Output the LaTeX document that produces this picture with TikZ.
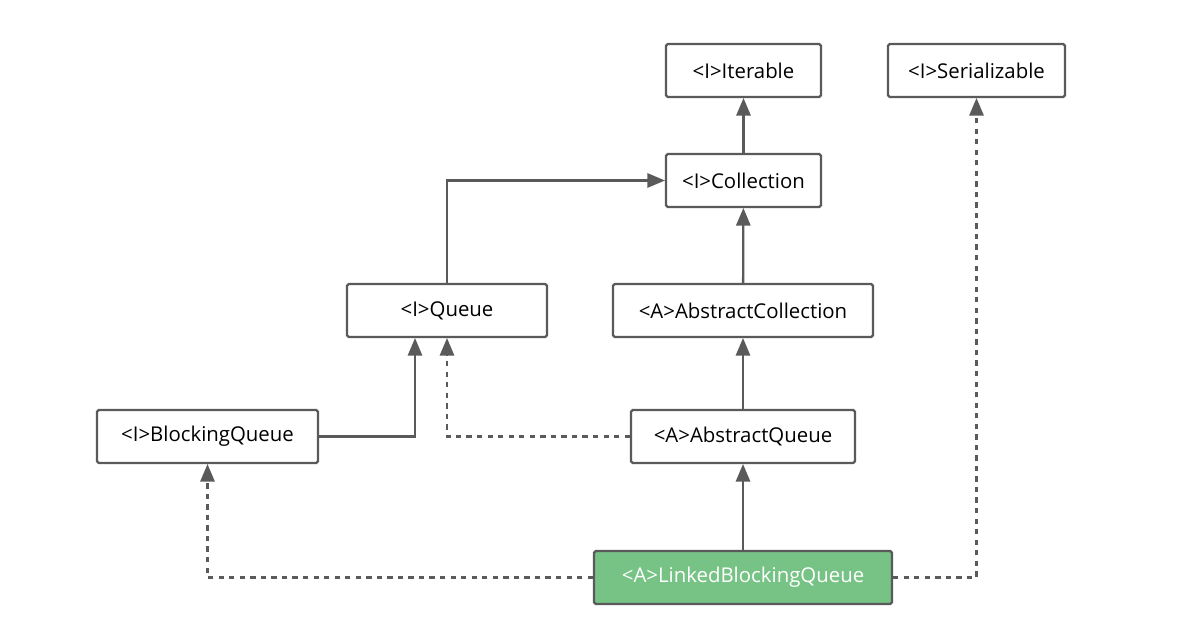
\documentclass[tikz,border=0pt]{standalone}
\usepackage{fontspec}
\setmainfont{Open Sans}
\usepackage{tikz}
\usetikzlibrary{arrows, positioning}

\definecolor{linegray}{HTML}{5A5A5A}
\definecolor{implgreen}{HTML}{77C386}

\begin{document}
\begin{tikzpicture}[x=0.02cm, y=-0.02cm]
\tikzstyle{box} = [rectangle, draw=linegray, line width=1.3pt, rounded corners=1pt, minimum height=1.06cm, text centered, font=\fontsize{11.6}{13}\selectfont, inner sep=0pt]
\tikzstyle{arrow} = [draw=linegray, line width=1.3pt, -triangle 45]
\tikzstyle{impl} = [arrow, dash pattern=on 3pt off 3pt]

\useasboundingbox (0,0) rectangle (1199,641);

\node[box, minimum width=3.1cm] (iterable) at (743.5,70.5) {<I>Iterable};
\node[box, minimum width=3.54cm] (serial) at (976.5,70.5) {<I>Serializable};
\node[box, minimum width=3.1cm] (collection) at (743.5,180.5) {<I>Collection};
\node[box, minimum width=4.0cm] (queue) at (447,310.5) {<I>Queue};
\node[box, minimum width=5.2cm] (abscoll) at (743,310.5) {<A>AbstractCollection};
\node[box, minimum width=4.42cm] (blocking) at (207.5,436.5) {<I>BlockingQueue};
\node[box, minimum width=4.48cm] (absqueue) at (743,436.5) {<A>AbstractQueue};
\node[box, minimum width=5.96cm, fill=implgreen, text=white] (linked) at (743,577.5) {<A>LinkedBlockingQueue};

\draw[arrow] (collection) -- (iterable);
\draw[arrow] (queue.north) |- (collection.west);
\draw[arrow] (abscoll) -- (collection);
\draw[arrow] (absqueue) -- (abscoll);
\draw[arrow] (linked) -- (absqueue);
\draw[arrow] (blocking.east) -| ([xshift=-0.64cm]queue.south);
\draw[impl] (absqueue.west) -| (queue.south);
\draw[impl] (linked.west) -| (blocking.south);
\draw[impl] (linked.east) -| (serial.south);
\end{tikzpicture}
\end{document}
